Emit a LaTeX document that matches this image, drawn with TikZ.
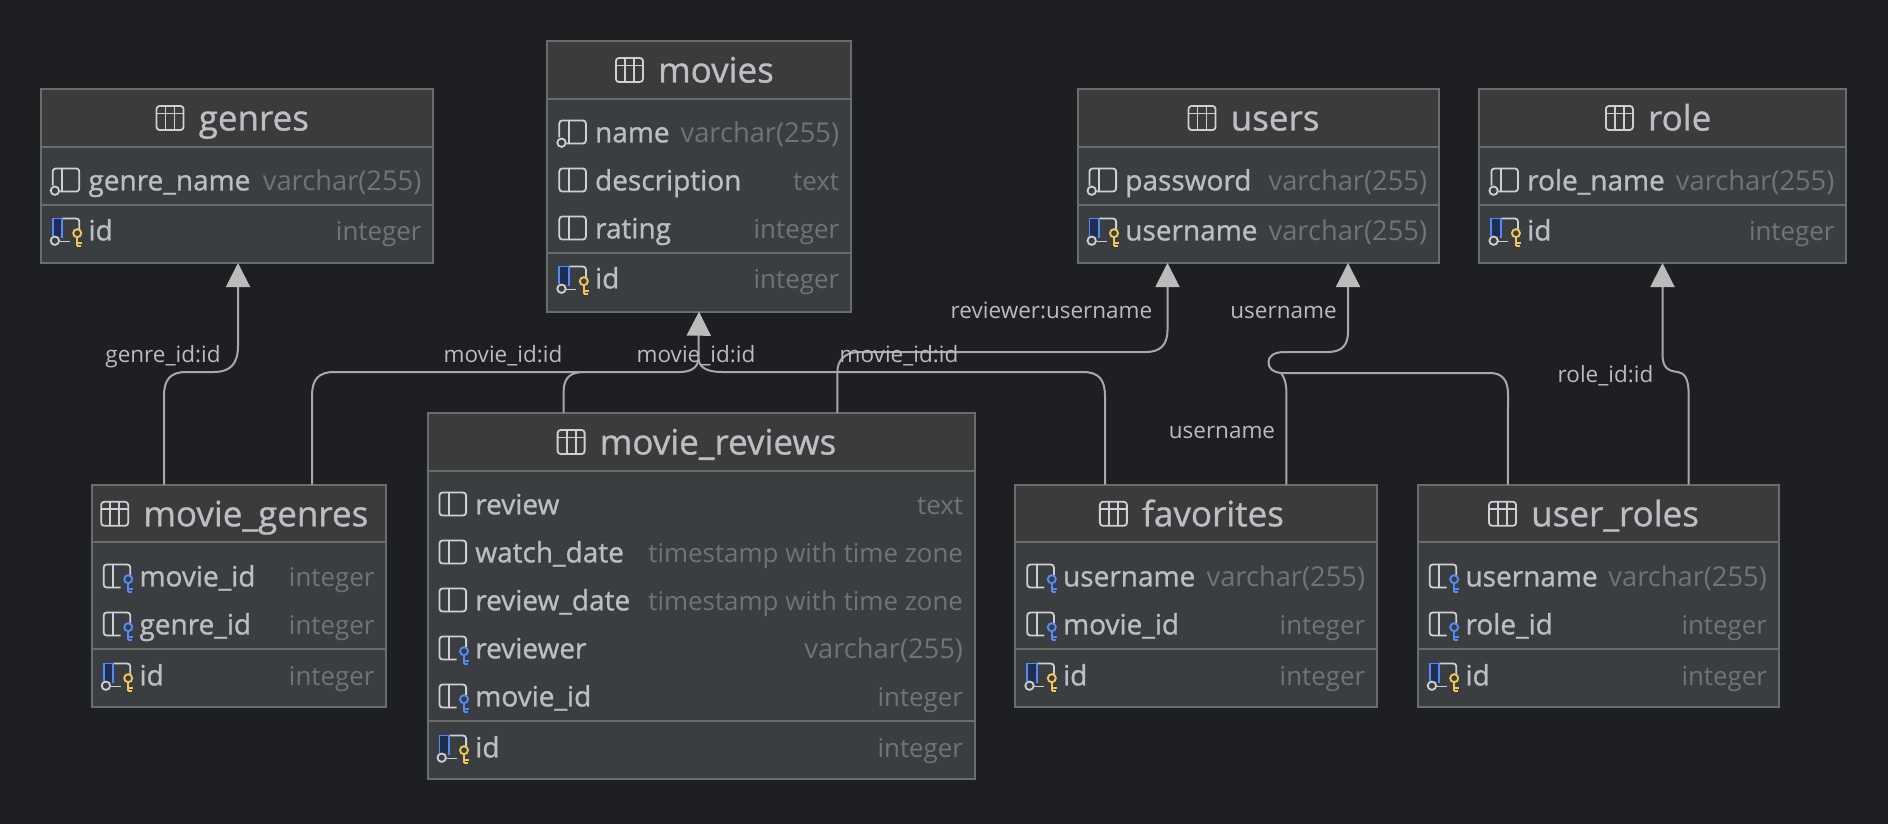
\documentclass[tikz,border=0pt]{standalone}
\usepackage{fontspec}
\setmainfont{Open Sans}
\newfontfamily\namefont[FakeBold=0.9]{Open Sans}
\usetikzlibrary{arrows.meta}
\definecolor{bgc}{HTML}{1E1F22}
\definecolor{headc}{HTML}{3C3B3B}
\definecolor{bodyc}{HTML}{3B3E41}
\definecolor{borderc}{HTML}{6B6C6C}
\definecolor{textc}{HTML}{BCBEC4}
\definecolor{typec}{HTML}{6F737A}
\definecolor{linec}{HTML}{A8A8A8}
\definecolor{tipc}{HTML}{BBBBBB}
\definecolor{icoc}{HTML}{CED0D6}
\definecolor{fkc}{HTML}{548AF7}
\definecolor{pkc}{HTML}{F2C55C}
\definecolor{pkfill}{HTML}{1F2D50}
\newcounter{autonode}
\newcommand\vc{{\fontsize{27.3}{30}\selectfont varchar(255)}}
\tikzset{
  tablebox/.style={draw=borderc,fill=bodyc,line width=2pt,inner sep=0pt,outer sep=0pt,anchor=north west},
  sepline/.style={draw=borderc,line width=2pt},
  titletext/.style={anchor=base,inner sep=0pt,text=textc,font=\namefont\fontsize{35}{40}\selectfont},
  nametext/.style={anchor=base west,inner sep=0pt,text=textc,font=\namefont\fontsize{28}{32}\selectfont},
  typetext/.style={anchor=base east,inner sep=0pt,text=typec,font=\fontsize{25.9}{30}\selectfont},
  edgelabel/.style={anchor=mid,inner sep=0pt,text=tipc,font=\fontsize{22.5}{26}\selectfont},
  ico/.style={draw=icoc,line width=1.8pt},
  conn/.style={draw=linec,line width=2pt},
  connarrow/.style={conn,-{Triangle[length=24pt,width=24pt,fill=tipc,color=tipc]}},
}
\newcommand\tbl[7]{% id L T R B sep title
  \pgfmathsetmacro\tblw{#4-#2}\pgfmathsetmacro\tblh{#5-#3}\pgfmathsetmacro\tblc{(#2+#4)/2+17}
  \pgfmathsetmacro\tbly{#3+41.8}\pgfmathsetmacro\tbli{#3+29.3}
  \node[tablebox,minimum width=\tblw pt,minimum height=\tblh pt] (#1) at (#2,#3) {};
  \fill[headc] (#2+1,#3+1) rectangle (#4-1,#6);
  \draw[sepline] (#2,#6) -- (#4,#6);
  \node[titletext] (#1-title) at (\tblc,\tbly) {#7};
  \begin{scope}[shift={(#1-title.west |- 0,\tbli)},xshift=-42pt]
    \draw[ico,rounded corners=3pt] (0,-12) rectangle (27,12);
    \draw[ico] (0,-4.5) -- (27,-4.5) (9,-12) -- (9,12) (18,-12) -- (18,12);
  \end{scope}
}
\newcommand\keyglyph[1]{%
  \draw[draw=#1,line width=1.9pt] (24.5,3.2) circle (4);
  \draw[draw=#1,line width=1.9pt] (24.5,7.2) -- (24.5,16) (24.5,12.6) -- (29.5,12.6) (24.5,16) -- (28.5,16);
}
\newcommand\icoplain{%
  \draw[ico,rounded corners=3pt] (0,-11.5) rectangle (26.6,11.5);
  \draw[ico] (9.5,-11.5) -- (9.5,11.5);
}
\newcommand\iconotnull{%
  \draw[ico,rounded corners=3pt] (0,5.5) -- (0,-11.5) -- (26.6,-11.5) -- (26.6,11.5) -- (7,11.5);
  \draw[ico] (9.5,-11.5) -- (9.5,11.5);
  \draw[ico] (2.2,10.7) circle (4.2);
}
\newcommand\icofk{%
  \draw[ico,rounded corners=3pt] (26.6,-1) -- (26.6,-11.5) -- (0,-11.5) -- (0,11.5) -- (17,11.5);
  \draw[ico] (9.5,-11.5) -- (9.5,11.5);
  \keyglyph{fkc}
}
\newcommand\icopk{%
  \fill[pkfill] (0,-11.5) rectangle (9.5,6);
  \draw[ico,rounded corners=3pt] (9.5,-11.5) -- (26.6,-11.5) -- (26.6,-1);
  \draw[ico] (7,11.5) -- (17,11.5);
  \draw[draw=fkc,line width=1.9pt] (0,5.5) -- (0,-11.5) -- (9.5,-11.5) -- (9.5,8);
  \draw[ico] (2.2,10.7) circle (4.2);
  \keyglyph{pkc}
}
\newcommand\trow[6]{% L R cy icon name type
  \begin{scope}[shift={(#1+12,#3)}]#4\end{scope}
  \stepcounter{autonode}
  \node[nametext] (n\arabic{autonode}) at (#1+47.6,#3+10.4) {#5};
  \stepcounter{autonode}
  \node[typetext] (n\arabic{autonode}) at (#2-11.4,#3+10.4) {#6};
}
\newcommand\lbl[3]{\stepcounter{autonode}\node[edgelabel] (n\arabic{autonode}) at (#1,#2) {#3};}
\begin{document}
\begin{tikzpicture}[x=1pt,y=-1pt]
\fill[bgc] (0,0) rectangle (1888,824);
\useasboundingbox (0,0) rectangle (1888,824);
% tables
\tbl{genres}{40.7}{88.7}{433}{263}{146.7}{genres}
\tbl{movies}{547.3}{40.7}{850.7}{311.7}{99}{movies}
\tbl{users}{1077.5}{88.7}{1438.7}{263}{146.7}{users}
\tbl{role}{1479.4}{88.7}{1846}{263}{146.7}{role}
\tbl{moviegenres}{91.7}{484.5}{386}{707.3}{542.3}{movie\_genres}
\tbl{moviereviews}{427.5}{412.7}{974.6}{779}{470.7}{movie\_reviews}
\tbl{favorites}{1015.3}{484.5}{1376.7}{707.3}{542.3}{favorites}
\tbl{userroles}{1417.7}{484.5}{1778.5}{707.3}{542.3}{user\_roles}
% key separators
\draw[sepline] (genres.west |- 0,205) -- (genres.east |- 0,205);
\draw[sepline] (movies.west |- 0,252.7) -- (movies.east |- 0,252.7);
\draw[sepline] (users.west |- 0,205) -- (users.east |- 0,205);
\draw[sepline] (role.west |- 0,205) -- (role.east |- 0,205);
\draw[sepline] (moviegenres.west |- 0,649) -- (moviegenres.east |- 0,649);
\draw[sepline] (moviereviews.west |- 0,720.7) -- (moviereviews.east |- 0,720.7);
\draw[sepline] (favorites.west |- 0,649) -- (favorites.east |- 0,649);
\draw[sepline] (userroles.west |- 0,649) -- (userroles.east |- 0,649);
% rows
\trow{40.7}{433}{180}{\iconotnull}{genre\_name}{\vc}
\trow{40.7}{433}{230}{\icopk}{id}{integer}
\trow{547.3}{850.7}{132}{\iconotnull}{name}{\vc}
\trow{547.3}{850.7}{180}{\icoplain}{description}{text}
\trow{547.3}{850.7}{228}{\icoplain}{rating}{integer}
\trow{547.3}{850.7}{278}{\icopk}{id}{integer}
\trow{1077.5}{1438.7}{180}{\iconotnull}{password}{\vc}
\trow{1077.5}{1438.7}{230}{\icopk}{username}{\vc}
\trow{1479.4}{1846}{180}{\iconotnull}{role\_name}{\vc}
\trow{1479.4}{1846}{230}{\icopk}{id}{integer}
\trow{91.7}{386}{576}{\icofk}{movie\_id}{integer}
\trow{91.7}{386}{624}{\icofk}{genre\_id}{integer}
\trow{91.7}{386}{675}{\icopk}{id}{integer}
\trow{427.5}{974.6}{504}{\icoplain}{review}{text}
\trow{427.5}{974.6}{552}{\icoplain}{watch\_date}{timestamp with time zone}
\trow{427.5}{974.6}{600}{\icoplain}{review\_date}{timestamp with time zone}
\trow{427.5}{974.6}{648}{\icofk}{reviewer}{\vc}
\trow{427.5}{974.6}{696}{\icofk}{movie\_id}{integer}
\trow{427.5}{974.6}{747}{\icopk}{id}{integer}
\trow{1015.3}{1376.7}{576}{\icofk}{username}{\vc}
\trow{1015.3}{1376.7}{624}{\icofk}{movie\_id}{integer}
\trow{1015.3}{1376.7}{675}{\icopk}{id}{integer}
\trow{1417.7}{1778.5}{576}{\icofk}{username}{\vc}
\trow{1417.7}{1778.5}{624}{\icofk}{role\_id}{integer}
\trow{1417.7}{1778.5}{675}{\icopk}{id}{integer}
% connectors
\draw[connarrow] ([xshift=72.3pt]moviegenres.north west) -- (164,396) .. controls (164,380) and (170,372) .. (186,372) -- (214,372) .. controls (230,372) and (238,364) .. (238,346) -- ([xshift=197.3pt]genres.south west);
\draw[connarrow] ([xshift=220.3pt]moviegenres.north west) -- (312,396) .. controls (312,380) and (318,372) .. (334,372) -- (680,372) .. controls (690,372) and (698.5,368) .. (698.5,358) -- ([xshift=151.7pt]movies.south west);
\draw[conn] ([xshift=136.1pt]moviereviews.north west) -- (563.6,392) .. controls (563.6,378) and (570,372) .. (584,372);
\draw[connarrow] ([xshift=409.9pt]moviereviews.north west) -- (837.4,372) .. controls (837.4,360) and (845,352) .. (860,352) -- (1146,352) .. controls (1160,352) and (1167.5,345) .. (1167.5,330) -- ([xshift=90pt]users.south west);
\draw[conn] ([xshift=89.7pt]favorites.north west) -- (1105,396) .. controls (1105,380) and (1099,372) .. (1083,372) -- (722,372) .. controls (708,372) and (698.5,368) .. (698.5,358);
\draw[connarrow] ([xshift=90.2pt]userroles.north west) -- (1508,394) .. controls (1508,380) and (1502,373) .. (1490,373) -- (1281,373) .. controls (1272,372) and (1268.5,368) .. (1268.5,362) .. controls (1268.5,356) and (1274,352) .. (1285,352) -- (1328,352) .. controls (1342,352) and (1348,345) .. (1348,332) -- ([xshift=270.5pt]users.south west);
\draw[conn] ([xshift=271.1pt]favorites.north west) -- (1286.4,393) .. controls (1286.4,385) and (1285,378) .. (1281,373);
\draw[connarrow] ([xshift=270.9pt]userroles.north west) -- (1688.6,393) .. controls (1688.6,380) and (1685,373) .. (1678,372) .. controls (1668,371) and (1662.5,368) .. (1662.5,354) -- ([xshift=183.1pt]role.south west);
% labels
\lbl{163}{360}{genre\_id:id}
\lbl{503}{360}{movie\_id:id}
\lbl{696}{360}{movie\_id:id}
\lbl{899}{360}{movie\_id:id}
\lbl{1051.5}{316}{reviewer:username}
\lbl{1283.5}{316}{username}
\lbl{1222}{436}{username}
\lbl{1605.5}{380}{role\_id:id}
\end{tikzpicture}
\end{document}
